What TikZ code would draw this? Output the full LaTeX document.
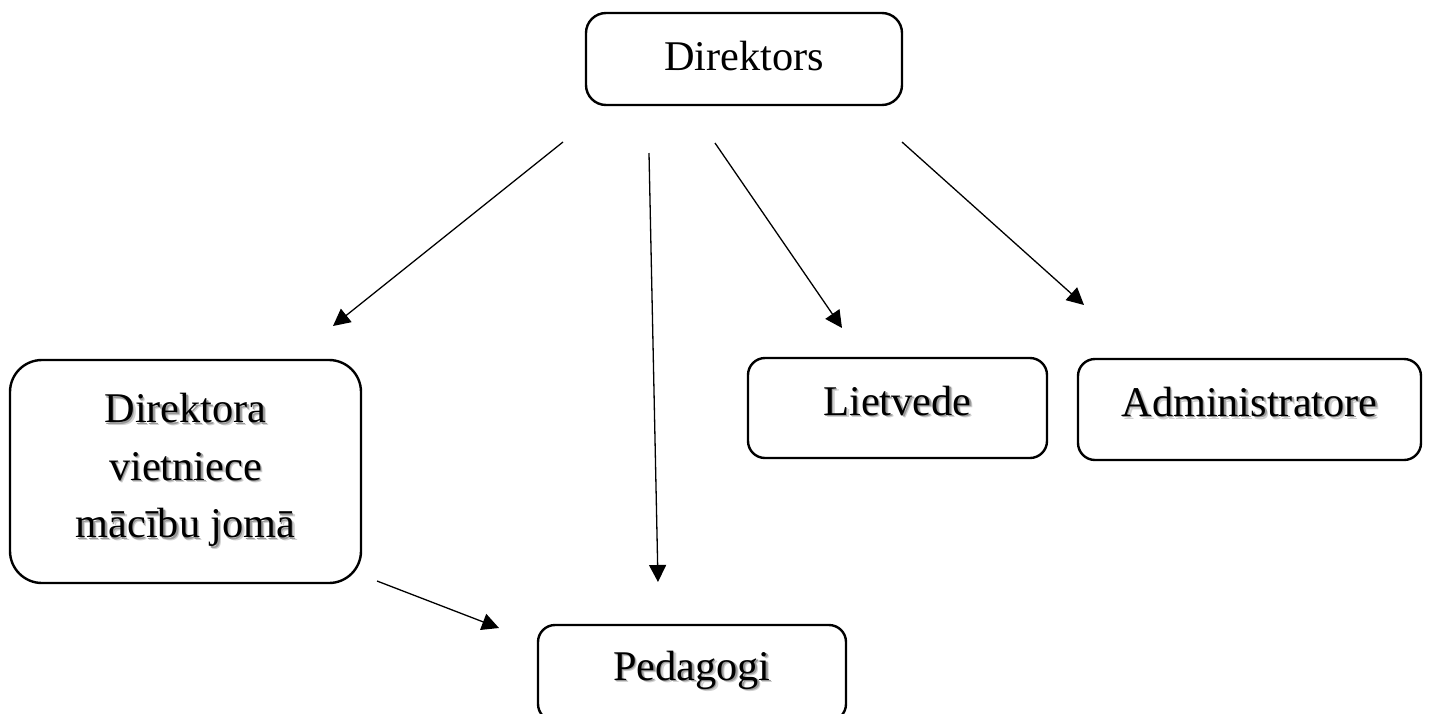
\documentclass[tikz,border=0pt]{standalone}
\usepackage{fontspec}
\setmainfont{Liberation Serif}
\usetikzlibrary{arrows.meta}

\newcommand{\shtxt}[1]{\rlap{\kern2.6pt\raisebox{-2.6pt}{\color{black!18}#1}}\rlap{\kern1.4pt\raisebox{-1.4pt}{\color{black!40}#1}}#1}

\tikzset{
  box/.style={draw,line width=2.4pt,rounded corners=17pt,inner sep=0pt,
    font=\fontsize{42.3}{57.5}\selectfont},
  onebox/.style={box,text height=26pt,text depth=12pt},
  arr/.style={-{Triangle[length=17pt,width=17pt]},line width=1.3pt}
}

\begin{document}
\begin{tikzpicture}[x=1pt,y=-1pt]
 \useasboundingbox (0,0) rectangle (1430,713);
 % boxes
 \node[onebox,rounded corners=20pt,minimum width=316pt,minimum height=92pt,
   text height=30pt,text depth=8pt] (dir) at (744,59) {Direktors};
 \node[box,rounded corners=32pt,minimum width=351pt,minimum height=223pt,
   align=center] (vietn) at (185.5,471.5)
   {\shtxt{Direktora}\\\shtxt{vietniece}\\\shtxt{mācību jomā}};
 \node[onebox,minimum width=299pt,minimum height=100pt] (lietv) at (897.5,408) {\shtxt{Lietvede}};
 \node[onebox,minimum width=343pt,minimum height=101pt] (admin) at (1249.5,409.5) {\shtxt{Administratore}};
 \node[onebox,minimum width=308pt,minimum height=96pt] (ped) at (692,673) {\shtxt{Pedagogi}};
 % arrow ends
 \coordinate (dir-o1) at (563,142);
 \coordinate (dir-o2) at (649,153);
 \coordinate (dir-o3) at (715,143);
 \coordinate (dir-o4) at (902,142);
 \coordinate (vietn-i) at (333,326);
 \coordinate (vietn-o) at (377,581);
 \coordinate (lietv-i) at (842,328);
 \coordinate (admin-i) at (1084,305);
 \coordinate (ped-i1) at (658,582);
 \coordinate (ped-i2) at (499,628);
 % arrows
 \draw[arr] (dir-o1) -- (vietn-i);
 \draw[arr] (dir-o2) -- (ped-i1);
 \draw[arr] (dir-o3) -- (lietv-i);
 \draw[arr] (dir-o4) -- (admin-i);
 \draw[arr] (vietn-o) -- (ped-i2);
\end{tikzpicture}
\end{document}
